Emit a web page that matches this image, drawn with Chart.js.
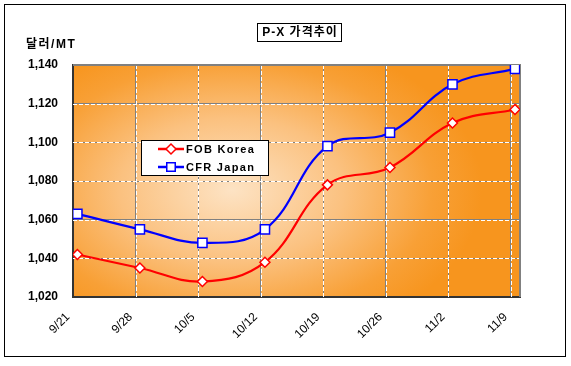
<!DOCTYPE html>
<html lang="ko">
<head>
<meta charset="utf-8">
<script src="https://cdn.jsdelivr.net/npm/chart.js@4.4.0/dist/chart.umd.min.js"></script>
<style>html,body{margin:0;background:#fff}canvas{display:block}</style>
</head>
<body>
<canvas id="c" width="571" height="366"></canvas>
<script>
/* P-X 가격추이 — 주간 가격 (달러/MT) */
const DATES = ["9/21","9/28","10/5","10/12","10/19","10/26","11/2","11/9"];
const FOB_KOREA = [1042,1035,1028,1038,1078,1087,1110,1117];
const CFR_JAPAN = [1063,1055,1048,1055,1098,1105,1130,1138];
const Y_MIN = 1020, Y_MAX = 1140, Y_STEP = 20;
const SERIES_NAMES = ["FOB Korea","CFR Japan"];
const TITLE = "P-X 가격추이", Y_TITLE = "달러/MT";

(function () {
  const KFONT = 'Arial, "Liberation Sans", "Noto Sans CJK KR", sans-serif';
  const GRID_SHIFT = 0.07; // 눈금선이 점보다 약간 왼쪽

  const frame = {
    id: "frame",
    beforeDraw(chart) {
      const { ctx, chartArea: a } = chart;
      ctx.save();
      ctx.fillStyle = "#fff"; ctx.fillRect(0, 0, chart.width, chart.height);
      ctx.strokeStyle = "#000"; ctx.lineWidth = 1; ctx.strokeRect(4.5, 4.5, 561, 352);
      // 주황 그라데이션 (가운데 밝게)
      ctx.beginPath(); ctx.rect(a.left, a.top, a.width, a.height); ctx.clip();
      const cx = 232, cy = 190, rx = 250, ry = 160;
      ctx.translate(cx, cy); ctx.scale(1, ry / rx);
      const g = ctx.createRadialGradient(0, 0, 0, 0, 0, rx);
      g.addColorStop(0, "#FDE3C4"); g.addColorStop(0.45, "#FBC17F");
      g.addColorStop(0.8, "#F8A036"); g.addColorStop(1, "#F7951E");
      ctx.fillStyle = g; ctx.fillRect(-rx * 2, -rx * 2, rx * 4, rx * 4);
      ctx.restore();
    },
    beforeDatasetsDraw(chart) {
      const { ctx, chartArea: a, scales: { x, y } } = chart;
      ctx.save();
      ctx.strokeStyle = "#fff"; ctx.lineWidth = 1; ctx.setLineDash([4, 2]);
      x.ticks.forEach((t, i) => { if (!i) return; const px = Math.round(x.getPixelForValue(t.value)) + 0.5;
        ctx.beginPath(); ctx.moveTo(px, a.top); ctx.lineTo(px, a.bottom); ctx.stroke(); });
      y.ticks.forEach(t => { if (t.value === Y_MIN || t.value === Y_MAX) return; const py = Math.round(y.getPixelForValue(t.value)) + 0.5;
        ctx.beginPath(); ctx.moveTo(a.left, py); ctx.lineTo(a.right, py); ctx.stroke(); });
      ctx.setLineDash([]);
      ctx.strokeStyle = "#808080"; ctx.lineWidth = 2;
      ctx.beginPath(); ctx.moveTo(a.left, a.top); ctx.lineTo(a.right, a.top); ctx.lineTo(a.right, a.bottom); ctx.stroke();
      ctx.restore();
    },
    afterDraw(chart) {
      const { ctx } = chart;
      ctx.save();
      // 제목 박스
      ctx.strokeStyle = "#000"; ctx.lineWidth = 1; ctx.strokeRect(257.5, 23.5, 84, 18);
      ctx.fillStyle = "#000"; ctx.font = "bold 12px " + KFONT; ctx.textBaseline = "middle";
      ctx.letterSpacing = "1px"; ctx.textAlign = "center"; ctx.fillText(TITLE, 300, 33);
      ctx.letterSpacing = "1.5px"; ctx.textAlign = "left"; ctx.fillText(Y_TITLE, 26, 45);
      // 범례
      ctx.fillStyle = "#fff"; ctx.fillRect(141, 140, 128, 36);
      ctx.strokeRect(141.5, 140.5, 127, 35);
      ctx.font = "bold 11px " + KFONT; ctx.letterSpacing = "1.3px";
      chart.data.datasets.forEach((ds, i) => {
        const yy = 149 + i * 18;
        ctx.strokeStyle = ds.borderColor; ctx.lineWidth = 2.5;
        ctx.beginPath(); ctx.moveTo(158, yy); ctx.lineTo(184, yy); ctx.stroke();
        ctx.fillStyle = "#fff"; ctx.lineWidth = 1.5;
        Chart.helpers.drawPoint(ctx, { pointStyle: ds.pointStyle, radius: i ? 6 : 5, borderWidth: 1.5 }, 171, yy);
        ctx.fillStyle = "#000"; ctx.fillText(ds.label, 186, yy + 0.5);
      });
      ctx.restore();
    }
  };

  const pts = arr => arr.map((v, i) => ({ x: i, y: v }));
  const series = (label, data, color, style, r) => ({
    label, data: pts(data), borderColor: color, backgroundColor: "#fff", borderWidth: 2.2,
    pointStyle: style, pointRadius: r, pointBorderWidth: 1.5, pointBackgroundColor: "#fff",
    pointBorderColor: color, tension: 0.4
  });

  new Chart(document.getElementById("c"), {
    type: "line",
    data: { datasets: [
      series(SERIES_NAMES[0], FOB_KOREA, "#FF0000", "rectRot", 5),
      series(SERIES_NAMES[1], CFR_JAPAN, "#0000FF", "rect", 6.5)
    ] },
    options: {
      responsive: false, animation: false, devicePixelRatio: 1,
      layout: { padding: { top: 65, right: 51, left: 0, bottom: 0 } },
      plugins: { legend: { display: false }, tooltip: { enabled: false } },
      scales: {
        x: {
          type: "linear", min: -GRID_SHIFT, max: DATES.length - 1 + 0.08,
          afterBuildTicks: s => { s.ticks = DATES.map((_, i) => ({ value: i - GRID_SHIFT })); },
          afterFit: s => { s.height = 69; },
          ticks: { autoSkip: false, minRotation: 45, maxRotation: 45, padding: 13, labelOffset: -5,
            color: "#000", font: { family: KFONT, size: 12 }, callback: (v, i) => DATES[i] },
          grid: { color: "#808080", drawTicks: false },
          border: { color: "#333", width: 2 }
        },
        y: {
          min: Y_MIN, max: Y_MAX,
          afterFit: s => { s.width = 73; },
          ticks: { stepSize: Y_STEP, padding: 15, color: "#000", font: { family: KFONT, size: 12, weight: "bold" },
            callback: v => v.toLocaleString("en-US") },
          grid: { color: "#808080", drawTicks: false },
          border: { color: "#333", width: 2 }
        }
      }
    },
    plugins: [frame]
  });
})();
</script>
</body>
</html>
